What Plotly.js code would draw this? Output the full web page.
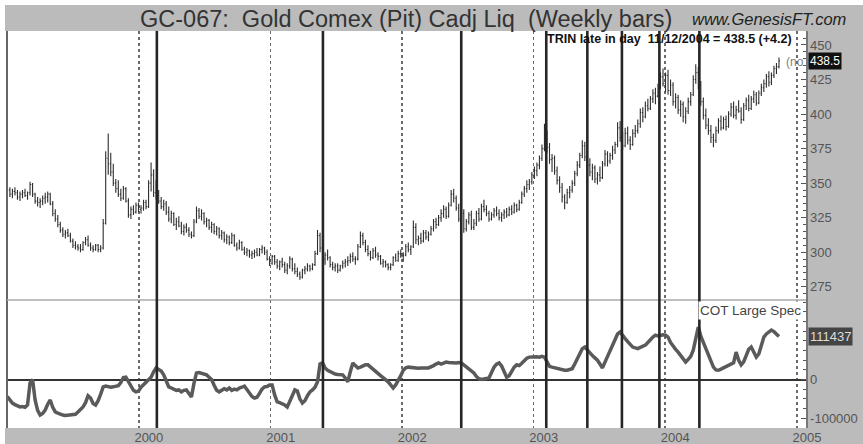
<!DOCTYPE html>
<html>
<head>
<meta charset="utf-8">
<script src="https://cdn.plot.ly/plotly-3.0.1.min.js"></script>
<style>html,body{margin:0;padding:0;background:#fff;}#chart{width:863px;height:444px;}</style>
</head>
<body>
<div id="chart"></div>
<script>
// Weekly bars, first week ending 1999-01-01, one bar per week
const firstWeek = '1999-01-01';

const priceOpen = [
344,345,342,344,343,340,342,343,341,343,
349,342,337,336,337,339,340,342,335,328,
324,320,316,313,314,312,308,305,304,303,
302,307,309,305,303,302,305,302,303,321,
368,364,358,350,346,342,339,346,337,327,
331,329,334,331,332,336,333,350,356,343,
341,337,333,335,329,324,328,320,322,319,
315,318,316,313,312,322,330,326,328,322,
323,318,320,315,317,312,314,309,311,307,
312,305,303,307,302,300,301,298,299,300,
298,302,303,300,295,292,297,293,290,293,
291,287,290,295,288,286,284,282,287,288,
290,288,291,299,312,303,295,298,296,291,
289,290,287,290,292,293,294,297,295,295,
304,312,307,302,299,296,301,298,297,292,
293,291,289,291,296,294,299,297,298,304,
302,304,318,309,310,308,314,311,313,317,
322,320,325,328,331,326,334,342,339,332,
324,328,317,322,327,318,321,328,324,333,
331,328,324,327,330,328,325,327,329,327,
331,329,334,331,336,342,346,349,351,356,
359,363,368,375,386,376,367,368,359,352,
347,340,336,343,345,350,357,363,370,377,
369,363,358,361,353,356,354,364,371,366,
370,374,378,390,383,377,386,381,378,386,
388,393,401,398,406,404,411,415,413,420,
427,422,428,417,421,409,412,403,407,398,
402,409,414,425,430,421,409,399,392,388,
383,381,388,395,390,396,391,400,405,399,
403,402,396,406,410,404,411,414,408,415,
419,422,427,423,428,433,434.3];

const priceHigh = [
348,347,346,347,345,344,345,346,344,351,
350,343,340,339,341,343,344,343,337,331,
327,322,318,316,317,314,310,308,306,306,
308,311,312,307,305,306,306,305,324,373,
386,372,364,353,352,346,348,347,339,333,
334,336,336,334,338,338,352,365,360,352,
345,340,338,337,333,330,329,325,326,322,
320,321,318,315,324,333,332,331,329,325,
324,322,321,319,318,316,315,313,312,314,
313,307,309,308,304,303,302,301,302,303,
303,305,304,302,297,298,298,295,294,296,
293,292,297,296,292,289,286,288,290,292,
291,292,301,316,314,306,300,302,297,293,
292,292,291,294,295,297,299,300,297,306,
315,314,309,305,301,303,304,300,298,295,
294,292,292,297,299,301,302,300,306,307,
305,323,321,312,314,316,316,315,319,324,
325,327,331,334,333,336,345,346,341,335,
330,331,324,329,330,324,330,332,335,338,
334,330,329,332,333,331,329,331,332,333,
334,336,335,338,344,348,352,353,358,362,
365,370,378,393,388,379,371,370,362,355,
350,342,346,348,352,359,366,372,381,380,
373,368,364,363,358,362,366,374,373,372,
377,380,394,395,387,390,391,384,389,392,
396,404,405,409,411,413,418,419,422,430,
433,430,432,425,423,415,414,410,409,405,
412,416,428,436,434,424,412,404,397,392,
386,391,397,399,398,399,402,408,409,406,
410,405,408,412,414,413,417,416,417,422,
425,429,431,430,435,437,441];

const priceLow = [
340,340,339,341,338,337,339,340,338,341,
340,335,333,332,334,335,336,334,326,322,
318,314,311,310,311,307,303,302,301,300,
301,305,304,301,300,301,300,300,302,320,
356,355,348,343,340,337,338,336,325,324,
327,328,329,328,330,331,332,344,340,338,
335,331,330,327,322,321,319,316,318,313,
312,314,311,310,311,321,324,323,320,318,
316,314,313,312,310,309,307,306,305,306,
304,301,302,301,298,297,296,295,296,297,
297,299,298,294,290,291,291,288,287,289,
285,284,288,286,284,282,280,281,284,286,
286,287,290,298,300,292,291,294,289,287,
286,285,286,288,289,290,292,293,291,294,
303,305,300,297,294,295,296,294,291,289,
289,287,287,290,293,293,296,293,297,300,
298,303,306,305,306,307,309,308,312,315,
317,319,322,325,324,325,333,336,330,322,
318,314,315,320,316,316,319,322,323,329,
326,322,323,325,326,323,322,324,325,326,
327,328,329,330,335,340,343,345,349,353,
355,360,366,373,372,364,358,356,349,343,
336,331,335,339,343,348,355,361,368,366,
360,355,352,350,349,351,353,362,362,364,
367,371,376,380,374,376,378,374,377,383,
386,390,394,397,402,403,408,407,412,418,
420,416,414,413,406,404,400,398,394,393,
400,406,413,422,418,406,396,389,385,379,
376,379,386,388,389,388,390,398,397,396,
401,393,395,403,402,403,408,406,407,413,
416,419,420,421,426,429,433];

const priceClose = [
345,342,344,343,340,342,343,341,343,349,
342,337,336,337,339,340,342,335,328,324,
320,316,313,314,312,308,305,304,303,302,
307,309,305,303,302,305,302,303,321,368,
364,358,350,346,342,339,346,337,327,331,
329,334,331,332,336,333,350,356,343,341,
337,333,335,329,324,328,320,322,319,315,
318,316,313,312,322,330,326,328,322,323,
318,320,315,317,312,314,309,311,307,312,
305,303,307,302,300,301,298,299,300,298,
302,303,300,295,292,297,293,290,293,291,
287,290,295,288,286,284,282,287,288,290,
288,291,299,312,303,295,298,296,291,289,
290,287,290,292,293,294,297,295,295,304,
312,307,302,299,296,301,298,297,292,293,
291,289,291,296,294,299,297,298,304,302,
304,318,309,310,308,314,311,313,317,322,
320,325,328,331,326,334,342,339,332,324,
328,317,322,327,318,321,328,324,333,331,
328,324,327,330,328,325,327,329,327,331,
329,334,331,336,342,346,349,351,356,359,
363,368,375,386,376,367,368,359,352,347,
340,336,343,345,350,357,363,370,377,369,
363,358,361,353,356,354,364,371,366,370,
374,378,390,383,377,386,381,378,386,388,
393,401,398,406,404,411,415,413,420,427,
422,428,417,421,409,412,403,407,398,402,
409,414,425,430,421,409,399,392,388,383,
381,388,395,390,396,391,400,405,399,403,
402,396,406,410,404,411,414,408,415,419,
422,427,423,428,433,434.3,438.5];

// COT Large Speculators net position (contracts)
const cotLargeSpec = [
-44000,-52000,-61000,-65000,-68000,-71000,-70000,-72000,-66000,-9000,
0,-53000,-80000,-92000,-88000,-79000,-64000,-53000,-72000,-84000,
-87000,-90000,-92000,-93000,-92000,-93000,-91000,-90000,-84000,-78000,
-71000,-60000,-42000,-48000,-62000,-66000,-55000,-38000,-19000,-17000,
-19000,-20000,-19000,-18000,-16000,-8000,5000,6000,-6000,-20000,
-28000,-32000,-30000,-20000,-14000,-9000,-2000,6000,20000,30000,
26000,22000,12000,-6000,-19000,-22000,-25000,-28000,-27000,-32000,
-28000,-27000,-36000,-45000,-10000,17000,18000,16000,13000,12000,
6000,0,-15000,-28000,-32000,-27000,-24000,-27000,-22000,-28000,
-25000,-27000,-22000,-20000,-17000,-26000,-36000,-44000,-48000,-46000,
-36000,-25000,-19000,-18000,-14000,-14000,-40000,-58000,-60000,-62000,
-66000,-71000,-55000,-38000,-27000,-30000,-50000,-61000,-55000,-42000,
-32000,-27000,-20000,-6000,40000,43000,30000,24000,20000,17000,
14000,13000,12000,12000,4000,-6000,20000,43000,36000,30000,
32000,36000,38000,38000,32000,25000,20000,15000,10000,5000,
0,-6000,-14000,-22000,-14000,-3000,10000,24000,30000,32000,
31000,32000,30000,29000,30000,31000,30000,30000,32000,36000,
40000,43000,40000,42000,45000,44000,43000,42000,43000,44000,
43000,38000,33000,29000,24000,17000,8000,2000,0,1000,
3000,4000,18000,32000,40000,43000,35000,20000,6000,10000,
22000,32000,38000,36000,42000,50000,55000,58000,59000,60000,
59000,58000,60000,58000,45000,34000,32000,30000,28000,27000,
25000,24000,24000,25000,28000,40000,55000,68000,80000,84000,
76000,68000,62000,56000,50000,40000,30000,45000,60000,76000,
90000,108000,118000,123000,116000,106000,98000,90000,84000,82000,
80000,83000,86000,89000,96000,104000,110000,115000,113000,114000,
116000,115000,110000,96000,85000,78000,71000,63000,55000,45000,
52000,60000,76000,105000,136000,112000,96000,84000,66000,46000,
32000,25000,24000,27000,30000,32000,35000,38000,43000,71000,
50000,38000,46000,62000,78000,84000,70000,58000,66000,85000,
110000,118000,124000,128000,124000,116000,111437];

// vertical cycle marks
const cycleDates = ['2000-02-20','2001-05-26','2002-06-14','2003-02-05','2003-05-30','2003-09-03','2003-12-16','2004-04-05'];
const yearTicks = ['2000-01-01','2001-01-01','2002-01-01','2003-01-01','2004-01-01','2005-01-01'];
const yearLabels = ['2000','2001','2002','2003','2004','2005'];
const lastPrice = 438.5;
const lastCot = 111437;

// weekly date categories
const weekDates = [];
{
  const d0 = new Date(firstWeek + 'T00:00:00Z');
  for (let i = 0; i < priceClose.length; i++) {
    const d = new Date(d0.getTime() + i * 7 * 86400000);
    weekDates.push(d.toISOString().slice(0, 10));
  }
}

const FONT = 'Liberation Sans, Arial, sans-serif';
const GRAY = '#bbbbbb';
const SPLIT = 0.3224;

const traces = [
  {
    type: 'ohlc', x: weekDates, open: priceOpen, high: priceHigh, low: priceLow, close: priceClose,
    xaxis: 'x', yaxis: 'y', tickwidth: 0.35,
    increasing: {line: {color: '#2e2e2e', width: 1.1}},
    decreasing: {line: {color: '#2e2e2e', width: 1.1}},
    hoverinfo: 'skip', showlegend: false
  },
  {
    type: 'scatter', mode: 'lines', x: weekDates, y: cotLargeSpec,
    xaxis: 'x', yaxis: 'y2',
    line: {color: '#5a5a5a', width: 3.5},
    hoverinfo: 'skip', showlegend: false
  }
];

const shapes = [
  {type: 'rect', xref: 'paper', yref: 'paper', x0: -0.0025, x1: 1.08, y0: 1, y1: 1.0655, fillcolor: GRAY, line: {width: 0}, layer: 'below'},
  {type: 'rect', xref: 'paper', yref: 'paper', x0: 1, x1: 1.08, y0: -0.06, y1: 1.0655, fillcolor: GRAY, line: {width: 0}, layer: 'below'},
  {type: 'rect', xref: 'paper', yref: 'paper', x0: -0.0025, x1: 1.08, y0: -0.06, y1: 0, fillcolor: GRAY, line: {width: 0}, layer: 'below'},
  {type: 'line', xref: 'paper', yref: 'paper', x0: 0, x1: 0, y0: 0, y1: 1, line: {color: '#666', width: 2}},
  {type: 'line', xref: 'paper', yref: 'paper', x0: 0, x1: 1, y0: SPLIT, y1: SPLIT, line: {color: '#aaa', width: 1.5}}
];
cycleDates.forEach(function (d) {
  shapes.push({type: 'line', xref: 'x', yref: 'paper', x0: d, x1: d, y0: 0, y1: 1, line: {color: '#262626', width: 2.6}, layer: 'above'});
});

const annotations = [
  {xref: 'paper', yref: 'paper', x: 0.1640, y: 1.0290, xanchor: 'left', yanchor: 'middle', showarrow: false,
   text: 'GC-067:\u00a0\u00a0Gold Comex (Pit) Cadj Liq\u00a0\u00a0(Weekly bars)', font: {family: FONT, size: 23.5, color: '#333'}},
  {xref: 'paper', yref: 'paper', x: 0.8548, y: 1.030, xanchor: 'left', yanchor: 'middle', showarrow: false,
   text: '<i>www.GenesisFT.com</i>', font: {family: FONT, size: 16.5, color: '#222'}},
  {xref: 'paper', yref: 'paper', x: 0.6733, y: 0.9798, xanchor: 'left', yanchor: 'middle', showarrow: false,
   text: '<b>TRIN late in day\u00a0\u00a011/12/2004 = 438.5 (+4.2)</b>', font: {family: FONT, size: 12.5, color: '#111'}},
  {xref: 'paper', yref: 'paper', x: 0.9725, y: 0.9219, xanchor: 'left', yanchor: 'middle', showarrow: false,
   text: '(no c', font: {family: FONT, size: 12, color: '#808080'}},
  {xref: 'paper', yref: 'y', x: 1, y: lastPrice, xanchor: 'left', yanchor: 'middle', xshift: 2, showarrow: false,
   text: String(lastPrice), bgcolor: '#111', borderpad: 1, font: {family: FONT, size: 12, color: '#fff'}},
  {xref: 'paper', yref: 'y2', x: 1, y: lastCot, xanchor: 'left', yanchor: 'middle', xshift: 2, showarrow: false,
   text: String(lastCot), bgcolor: '#444', borderpad: 1, font: {family: FONT, size: 13, color: '#ddd'}},
  {xref: 'paper', yref: 'paper', x: 0.9962, y: 0.2972, xanchor: 'right', yanchor: 'middle', showarrow: false,
   text: 'COT Large Spec', bgcolor: '#fff', font: {family: FONT, size: 13.5, color: '#444'}}
];

const layout = {
  width: 863, height: 444,
  margin: {l: 7, r: 57, t: 31, b: 16, pad: 0},
  paper_bgcolor: '#fff', plot_bgcolor: '#fff',
  font: {family: FONT, color: '#555'},
  showlegend: false,
  hovermode: false,
  xaxis: {
    type: 'date', range: ['1998-12-31', '2005-01-26'], anchor: 'y2',
    rangeslider: {visible: false},
    tickmode: 'array', tickvals: yearTicks, ticktext: yearLabels,
    ticks: '', ticklabelshift: 10,
    showgrid: true, gridcolor: '#6a6a6a', griddash: 'dot', gridwidth: 1.5,
    zeroline: false, showline: false,
    tickfont: {family: FONT, size: 13, color: '#555'}
  },
  yaxis: {
    domain: [SPLIT, 1], range: [265.4, 460.1], side: 'right', anchor: 'x',
    tickmode: 'linear', tick0: 275, dtick: 25,
    ticks: 'inside', ticklen: 5, tickcolor: '#555', tickwidth: 1,
    minor: {ticks: 'inside', ticklen: 3, dtick: 5, tick0: 275, tickcolor: '#555', showgrid: false},
    showline: true, linecolor: '#777', linewidth: 1.5,
    showgrid: false, zeroline: false,
    tickfont: {family: FONT, size: 13, color: '#555'}
  },
  yaxis2: {
    domain: [0, SPLIT], range: [-125600, 205900], side: 'right', anchor: 'x',
    tickmode: 'array', tickvals: [-100000, 0], ticktext: ['-100000', '0'],
    ticks: 'inside', ticklen: 5, tickcolor: '#555',
    minor: {ticks: 'inside', ticklen: 3, dtick: 25000, tick0: 0, tickcolor: '#555', showgrid: false},
    showline: true, linecolor: '#777', linewidth: 1.5,
    showgrid: false,
    zeroline: true, zerolinecolor: '#333', zerolinewidth: 2,
    tickfont: {family: FONT, size: 13, color: '#555'}
  },
  shapes: shapes,
  annotations: annotations
};

Plotly.newPlot('chart', traces, layout, {displayModeBar: false, staticPlot: true});
</script>
</body>
</html>
